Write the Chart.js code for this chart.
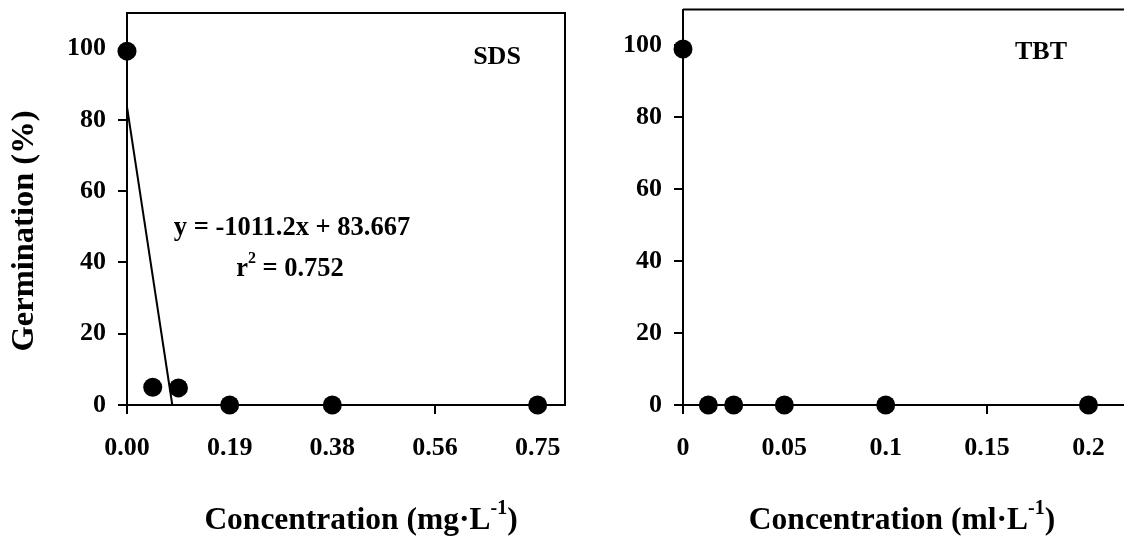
<!DOCTYPE html>
<html>
<head>
<meta charset="utf-8">
<title>Germination vs concentration</title>
<script src="https://cdn.jsdelivr.net/npm/chart.js@4.4.0/dist/chart.umd.min.js"></script>
<style>
    html, body { margin: 0; padding: 0; background: #fff; overflow: hidden; }
    #wrap { position: relative; width: 1124px; height: 540px; overflow: hidden; }
    .panel { position: absolute; top: 0; height: 540px; }
    #sdsBox { left: 0; width: 580px; }
    #tbtBox { left: 580px; width: 560px; }
</style>
</head>
<body>
<div id="wrap">
    <div class="panel" id="sdsBox"><canvas id="sdsChart"></canvas></div>
    <div class="panel" id="tbtBox"><canvas id="tbtChart"></canvas></div>
</div>
<script>
// --- SDS panel ---
const sdsConc = [0, 0.047, 0.094, 0.1875, 0.375, 0.75];
const sdsGerm = [99.3, 5.0, 4.8, 0, 0, 0];
const sdsTickValues = [0, 0.1875, 0.375, 0.5625, 0.75];
const sdsTickLabels = ['0.00', '0.19', '0.38', '0.56', '0.75'];
const sdsSlope = -1011.2;
const sdsIntercept = 83.667;
const sdsR2 = '0.752';

// --- TBT panel ---
const tbtConc = [0, 0.0125, 0.025, 0.05, 0.1, 0.2];
const tbtGerm = [99, 0, 0, 0, 0, 0];
const tbtTickValues = [0, 0.05, 0.1, 0.15, 0.2];
const tbtTickLabels = ['0', '0.05', '0.1', '0.15', '0.2'];

// shared y axis
const yTickValues = [0, 20, 40, 60, 80, 100];

const SERIF = '"Liberation Serif", "Times New Roman", Times, serif';

/**
 * Draw a line of text made of parts, some of them superscript, centred on (0,0)
 */
function drawRich(ctx, parts, size) {
    const fontFor = (p) => `bold ${p.sup ? Math.round(size * 0.62) : size}px ${SERIF}`;
    let total = 0;
    parts.forEach(p => {
        ctx.font = fontFor(p);
        p.w = ctx.measureText(p.t).width;
        total += p.w;
    });
    let x = -total / 2;
    parts.forEach(p => {
        ctx.font = fontFor(p);
        ctx.fillText(p.t, x, p.sup ? -size * 0.38 : 0);
        x += p.w;
    });
}

// Free text: panel names, equation, axis titles
const panelText = {
    id: 'panelText',
    afterDraw(chart, args, opts) {
        const ctx = chart.ctx;
        (opts.items || []).forEach(it => {
            ctx.save();
            ctx.fillStyle = '#000';
            ctx.textAlign = 'left';
            ctx.textBaseline = 'middle';
            ctx.translate(it.x, it.y);
            if (it.rotate) ctx.rotate(it.rotate);
            drawRich(ctx, it.parts, it.size);
            ctx.restore();
        });
    }
};

// Top and right edges of the plot box
const frame = {
    id: 'frame',
    beforeDatasetsDraw(chart) {
        const { ctx, chartArea: a } = chart;
        ctx.save();
        ctx.strokeStyle = '#000';
        ctx.lineWidth = 2;
        ctx.beginPath();
        ctx.moveTo(a.left, a.top);
        ctx.lineTo(a.right, a.top);
        ctx.lineTo(a.right, a.bottom);
        ctx.stroke();
        ctx.restore();
    }
};

// keep the tick labels from pushing the plot area around
function noLabelPadding(s) {
    s.paddingTop = 0;
    s.paddingBottom = 0;
    s.paddingLeft = 0;
    s.paddingRight = 0;
}

function makePanel(canvasId, cfg) {
    const tickFont = { family: SERIF, size: 26, weight: 'bold' };
    const datasets = [];

    if (cfg.fit) {
        datasets.push({
            type: 'line',
            data: [
                { x: 0, y: cfg.fit.intercept },
                { x: -cfg.fit.intercept / cfg.fit.slope, y: 0 }
            ],
            borderColor: '#000',
            borderWidth: 2,
            pointRadius: 0,
            fill: false,
            tension: 0,
            clip: false,
            order: 1
        });
    }

    datasets.push({
        type: 'scatter',
        data: cfg.xs.map((x, i) => ({ x: x, y: cfg.ys[i] })),
        pointRadius: 9.5,
        pointHoverRadius: 9.5,
        backgroundColor: '#000',
        borderColor: '#000',
        borderWidth: 0,
        clip: false,
        order: 0
    });

    return new Chart(document.getElementById(canvasId), {
        type: 'scatter',
        data: { datasets: datasets },
        plugins: [frame, panelText],
        options: {
            responsive: true,
            maintainAspectRatio: false,
            animation: false,
            events: [],
            layout: { padding: cfg.padding },
            plugins: {
                legend: { display: false },
                tooltip: { enabled: false },
                panelText: { items: cfg.texts }
            },
            scales: {
                x: {
                    type: 'linear',
                    min: 0,
                    max: cfg.xMax,
                    afterBuildTicks: (s) => { s.ticks = cfg.tickValues.map(v => ({ value: v })); },
                    afterFit: (s) => { s.height = 135; noLabelPadding(s); },
                    ticks: {
                        callback: (v) => cfg.tickLabels[cfg.tickValues.indexOf(v)],
                        font: tickFont,
                        color: '#000',
                        padding: 19,
                        maxRotation: 0,
                        autoSkip: false
                    },
                    grid: { drawOnChartArea: false, tickLength: 9, color: '#000', lineWidth: 2 },
                    border: { color: '#000', width: 2 }
                },
                y: {
                    type: 'linear',
                    min: 0,
                    max: 110,
                    afterBuildTicks: (s) => { s.ticks = yTickValues.map(v => ({ value: v })); },
                    afterFit: (s) => { s.width = cfg.yWidth; noLabelPadding(s); },
                    ticks: {
                        font: tickFont,
                        color: '#000',
                        padding: 12
                    },
                    grid: { drawOnChartArea: false, tickLength: 9, color: '#000', lineWidth: 2 },
                    border: { color: '#000', width: 2 }
                }
            }
        }
    });
}

makePanel('sdsChart', {
    xs: sdsConc,
    ys: sdsGerm,
    xMax: 0.8,
    tickValues: sdsTickValues,
    tickLabels: sdsTickLabels,
    fit: { slope: sdsSlope, intercept: sdsIntercept },
    yWidth: 127,
    padding: { left: 0, right: 15, top: 13, bottom: 0 },
    texts: [
        { x: 497, y: 57, size: 26, parts: [{ t: 'SDS' }] },
        { x: 292, y: 228, size: 26.5, parts: [{ t: `y = ${sdsSlope}x + ${sdsIntercept}` }] },
        { x: 290, y: 269, size: 26.5, parts: [{ t: 'r' }, { t: '2', sup: true }, { t: ' = ' + sdsR2 }] },
        { x: 361, y: 521, size: 31.5, parts: [{ t: 'Concentration (mg\u00B7L' }, { t: '-1', sup: true }, { t: ')' }] },
        { x: 25, y: 231, size: 32.5, rotate: -Math.PI / 2, parts: [{ t: 'Germination (%)' }] }
    ]
});

makePanel('tbtChart', {
    xs: tbtConc,
    ys: tbtGerm,
    xMax: 0.22,
    tickValues: tbtTickValues,
    tickLabels: tbtTickLabels,
    yWidth: 103,
    padding: { left: 0, right: 11, top: 7, bottom: 0 },
    texts: [
        { x: 461, y: 52, size: 26, parts: [{ t: 'TBT' }] },
        { x: 322, y: 521, size: 31.5, parts: [{ t: 'Concentration (ml\u00B7L' }, { t: '-1', sup: true }, { t: ')' }] }
    ]
});
</script>
</body>
</html>
